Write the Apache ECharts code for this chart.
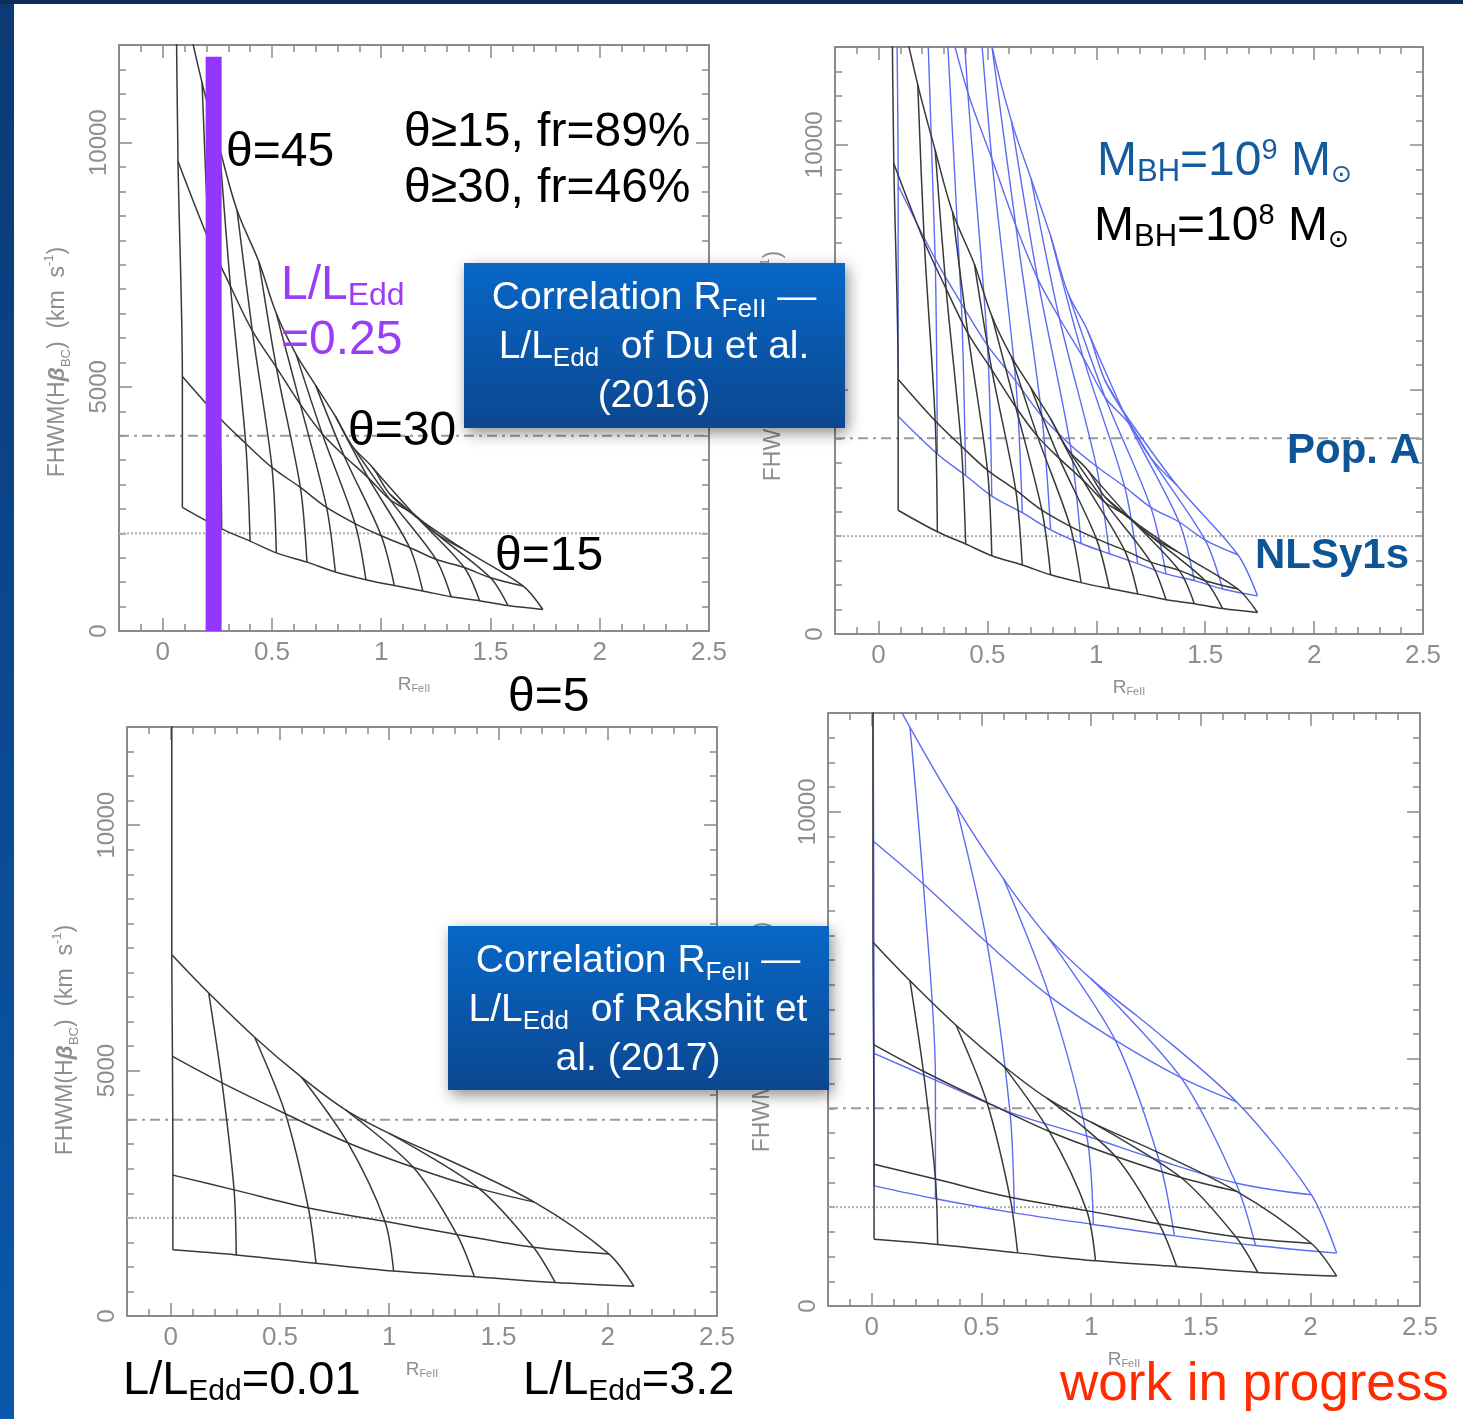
<!DOCTYPE html>
<html><head><meta charset="utf-8">
<script src="https://cdn.jsdelivr.net/npm/echarts@6/dist/echarts.min.js"></script>
<style>html,body{margin:0;padding:0;background:#fff}#c{width:1463px;height:1419px}</style>
</head><body><div id="c"></div>
<script>
// ---------------- DATA ----------------
// x = R_FeII, y = FHWM(Hbeta_BC) km/s ; each row = one viewing angle theta, one node per L/LEdd value
// Du et al. (2016) correlation, MBH = 1e8 (black)
const du8_t05 = [[0.09,2530],[0.27,2090],[0.40,1840],[0.52,1600],[0.66,1410],[0.79,1210],[0.93,1050],[1.06,930],[1.19,820],[1.32,700],[1.45,620],[1.58,520],[1.74,440]];
const du8_t15 = [[0.09,5210],[0.26,4360],[0.38,3840],[0.50,3350],[0.63,2940],[0.75,2530],[0.88,2200],[1.00,1950],[1.13,1710],[1.25,1470],[1.38,1300],[1.50,1090],[1.65,920]];
const du8_t30 = [[0.07,9620],[0.21,8020],[0.31,7060],[0.41,6150],[0.52,5400],[0.63,4640],[0.73,4040],[0.83,3590],[0.94,3140],[1.04,2690],[1.15,2390],[1.25,2000],[1.37,1690]];
const du8_t45 = [[0.06,13600],[0.18,11230],[0.26,9890],[0.34,8620],[0.44,7560],[0.52,6500],[0.61,5670],[0.70,5030],[0.79,4400],[0.87,3770],[0.96,3350],[1.04,2800],[1.15,2370]];
// Du et al. (2016) correlation, MBH = 1e9 (blue)
const du9_t05 = [[0.09,4450],[0.27,3680],[0.40,3240],[0.52,2820],[0.66,2480],[0.79,2130],[0.93,1850],[1.06,1640],[1.19,1440],[1.32,1230],[1.45,1090],[1.58,920],[1.74,780]];
const du9_t15 = [[0.09,9170],[0.26,7670],[0.38,6760],[0.50,5900],[0.63,5170],[0.75,4450],[0.88,3870],[1.00,3430],[1.13,3010],[1.25,2590],[1.38,2290],[1.50,1920],[1.65,1620]];
const du9_t30 = [[0.07,17320],[0.21,14440],[0.31,12710],[0.41,11070],[0.52,9720],[0.63,8350],[0.73,7270],[0.83,6460],[0.94,5650],[1.04,4840],[1.15,4300],[1.25,3600],[1.37,3040]];
const du9_t45 = [[0.06,25160],[0.18,20780],[0.26,18300],[0.34,15950],[0.44,13990],[0.52,12030],[0.61,10490],[0.70,9310],[0.79,8140],[0.87,6970],[0.96,6200],[1.04,5180],[1.15,4380]];
// Rakshit et al. (2017) correlation, MBH = 1e8 (black)
const rak8_t05 = [[0.01,1350],[0.30,1245],[0.665,1075],[1.02,915],[1.39,800],[1.76,680],[2.12,605]];
const rak8_t15 = [[0.01,2870],[0.29,2570],[0.63,2200],[0.98,1930],[1.31,1660],[1.66,1400],[2.005,1265]];
const rak8_t30 = [[0.008,5290],[0.235,4750],[0.525,4120],[0.81,3530],[1.11,3030],[1.41,2600],[1.664,2320]];
const rak8_t45 = [[0.005,7360],[0.174,6580],[0.384,5680],[0.60,4860],[0.80,4200],[1.00,3720],[1.21,3300]];
const rak8_edgeTop = [0.005,12600];
// Rakshit et al. (2017) correlation, MBH = 1e9 (blue)
const rak9_t05 = [[0.01,2430],[0.29,2170],[0.65,1885],[1.01,1650],[1.38,1420],[1.75,1225],[2.12,1070]];
const rak9_t15 = [[0.01,5110],[0.29,4570],[0.63,3920],[0.98,3440],[1.31,2950],[1.66,2490],[2.005,2250]];
const rak9_t30 = [[0.008,9400],[0.235,8540],[0.525,7350],[0.81,6270],[1.11,5380],[1.41,4620],[1.664,4130]];
const rak9_t45 = [[0.005,13100],[0.174,11710],[0.384,10110],[0.60,8650],[0.80,7480],[1.00,6620],[1.21,5870]];
// reference lines (Pop. A limit, NLSy1 limit) and the marked L/LEdd = 0.25 strip
const popA_fwhm = 4000;
const nlsy1_fwhm = 2000;
const xRange = [-0.2, 2.5];
const yRange = [0, 12000];
const lEdd025_rfe = 0.233;
const lEdd025_top = 11760;

// ---------------- LAYOUT ----------------
const SANS = "'Liberation Sans', Arial, Helvetica, sans-serif";
const AX = '#8a8a8a';
const LBL = '#8e8e8e';
const BLACK = '#383838';
const BLUE = '#5b6cf3';
const grids = [
  {left:119, top:45, width:590, height:586},
  {left:835, top:47, width:588, height:587},
  {left:127, top:727, width:590, height:589},
  {left:828, top:713, width:592, height:593}
];

const xAxes = [], yAxes = [];
grids.forEach((g, i) => {
  const tick = {show:true, inside:true, length:13, lineStyle:{color:AX, width:1.5}};
  const line = {show:true, onZero:false, lineStyle:{color:AX, width:2}};
  xAxes.push({gridIndex:i, type:'value', min:xRange[0], max:xRange[1], splitNumber:5, position:'bottom',
    axisLine:line, axisTick:tick, minorTick:{show:true, splitNumber:5, length:7, lineStyle:{color:AX, width:1.5}},
    splitLine:{show:false}, minorSplitLine:{show:false},
    axisLabel:{show:true, color:LBL, fontSize:26, fontFamily:SANS, margin:9, showMinLabel:false, formatter:v=>String(v)},
    name:'{a|R}{b|FeII}', nameLocation:'middle', nameGap:44,
    nameTextStyle:{color:LBL, rich:{a:{fontSize:19, fontFamily:SANS, color:LBL}, b:{fontSize:11, fontFamily:SANS, color:LBL, verticalAlign:'bottom'}}}});
  xAxes.push({gridIndex:i, type:'value', min:xRange[0], max:xRange[1], splitNumber:5, position:'top',
    axisLine:line, axisTick:tick, minorTick:{show:true, splitNumber:5, length:7, lineStyle:{color:AX, width:1.5}},
    splitLine:{show:false}, axisLabel:{show:false}});
  yAxes.push({gridIndex:i, type:'value', min:yRange[0], max:yRange[1], interval:5000, position:'left',
    axisLine:line, axisTick:tick, minorTick:{show:true, splitNumber:10, length:7, lineStyle:{color:AX, width:1.5}},
    splitLine:{show:false}, minorSplitLine:{show:false},
    axisLabel:{show:true, rotate:90, color:LBL, fontSize:24, fontFamily:SANS, margin:8, showMaxLabel:false, formatter:v=>String(v)}});
  yAxes.push({gridIndex:i, type:'value', min:yRange[0], max:yRange[1], interval:5000, position:'right',
    axisLine:line, axisTick:tick, minorTick:{show:true, splitNumber:10, length:7, lineStyle:{color:AX, width:1.5}},
    splitLine:{show:false}, axisLabel:{show:false}});
});

function lineSeries(data, g, color, width, smooth, extra) {
  return Object.assign({type:'line', xAxisIndex:2*g, yAxisIndex:2*g, data, showSymbol:false, symbol:'none',
    smooth, silent:true, clip:true, animation:false, lineStyle:{color, width}, z:3}, extra || {});
}
function mesh(rows, g, color, width, topExt) {
  const out = [];
  rows.forEach(r => out.push(lineSeries(r, g, color, width, 0.35)));
  for (let j = 0; j < rows[0].length; j++) {
    const pts = rows.map(r => r[j]);
    if (j === 0 && topExt) pts.push(topExt);
    out.push(lineSeries(pts, g, color, width, 0.3));
  }
  return out;
}
function refLines(g) {
  return [
    lineSeries([[xRange[0], popA_fwhm],[xRange[1], popA_fwhm]], g, '#9a9a9a', 2, false, {lineStyle:{color:'#9a9a9a', width:2, type:[10,5,3,5]}, z:2}),
    lineSeries([[xRange[0], nlsy1_fwhm],[xRange[1], nlsy1_fwhm]], g, '#b0b0b0', 2, false, {lineStyle:{color:'#b0b0b0', width:2, type:[2,2]}, z:2})
  ];
}

const series = [].concat(
  refLines(0), refLines(1), refLines(2), refLines(3),
  mesh([du8_t05, du8_t15, du8_t30, du8_t45], 0, BLACK, 1.5),
  mesh([du9_t05, du9_t15, du9_t30, du9_t45], 1, BLUE, 1.4),
  mesh([du8_t05, du8_t15, du8_t30, du8_t45], 1, BLACK, 1.5),
  mesh([rak8_t05, rak8_t15, rak8_t30, rak8_t45], 2, BLACK, 1.5, rak8_edgeTop),
  mesh([rak9_t05, rak9_t15, rak9_t30, rak9_t45], 3, BLUE, 1.4),
  mesh([rak8_t05, rak8_t15, rak8_t30, rak8_t45], 3, BLACK, 1.5, rak8_edgeTop),
  [lineSeries([[lEdd025_rfe, yRange[0]],[lEdd025_rfe, lEdd025_top]], 0, '#9436ff', 16, false, {z:6})]
);

// ---------------- ANNOTATIONS ----------------
const T = (x, y, text, opt) => ({type:'text', x, y, z:300, silent:true,
  style:Object.assign({text, fill:'#000', fontSize:48, fontFamily:SANS, align:'left', verticalAlign:'middle', lineHeight:52}, opt || {})});
const subRich = (fill, fs) => ({s:{fontSize:fs, fontFamily:SANS, fill, verticalAlign:'bottom', lineHeight:44}, p:{fontSize:fs-2, fontFamily:SANS, fill, verticalAlign:'top', lineHeight:40}, o:{fontSize:fs-6, fontFamily:'DejaVu Sans', fill, verticalAlign:'bottom', lineHeight:40}});
const box = (x, y, w, h) => ({type:'rect', z:250, silent:true, shape:{x, y, width:w, height:h},
  style:{fill:new echarts.graphic.LinearGradient(0,0,0,1,[{offset:0,color:'#0767c7'},{offset:1,color:'#0c4790'}]),
  shadowBlur:14, shadowColor:'rgba(0,0,0,0.45)', shadowOffsetX:3, shadowOffsetY:5}});
const boxText = (x, y, text) => ({type:'text', x, y, z:260, silent:true,
  style:{text, fill:'#fff', fontSize:39, fontFamily:SANS, align:'center', verticalAlign:'middle', lineHeight:49,
  rich:{s:{fontSize:26, fontFamily:SANS, fill:'#fff', verticalAlign:'bottom', lineHeight:40}}}});
const yTitle = (x, y) => ({type:'text', x, y, rotation:Math.PI/2, z:240, silent:true,
  style:{text:'{a|FHWM(H}{c|β}{b|BC}{a|)  (km  s}{d|-1}{a|)}', fill:LBL, align:'center', verticalAlign:'middle',
  rich:{a:{fontSize:23, fontFamily:SANS, fill:LBL, lineHeight:30}, c:{fontSize:23, fontFamily:SANS, fill:LBL, fontWeight:'bold', fontStyle:'italic', lineHeight:30},
        b:{fontSize:13, fontFamily:SANS, fill:LBL, verticalAlign:'bottom', lineHeight:24}, d:{fontSize:13, fontFamily:SANS, fill:LBL, verticalAlign:'top', lineHeight:24}}}});

const graphic = [
  {type:'rect', z:400, silent:true, shape:{x:0, y:0, width:14, height:1419},
    style:{fill:new echarts.graphic.LinearGradient(0,0,0,1,[{offset:0,color:'#0b3a74'},{offset:1,color:'#0a58ad'}])}},
  {type:'rect', z:400, silent:true, shape:{x:0, y:0, width:1463, height:4}, style:{fill:'#0c2e58'}},
  yTitle(58, 362), yTitle(774, 366), yTitle(66, 1040), yTitle(763, 1037),
  T(226, 153, 'θ=45'),
  T(404, 133, 'θ≥15, fr=89%'),
  T(404, 189, 'θ≥30, fr=46%'),
  T(281, 286, 'L/L{s|Edd}', {fill:'#9a3ef6', rich:subRich('#9a3ef6', 32)}),
  T(281, 341, '=0.25', {fill:'#9a3ef6'}),
  T(348, 432, 'θ=30'),
  T(495, 557, 'θ=15'),
  T(508, 698, 'θ=5'),
  T(1097, 162, 'M{s|BH}=10{p|9} M{o|⊙}', {fill:'#145a9e', rich:subRich('#145a9e', 31)}),
  T(1094, 227, 'M{s|BH}=10{p|8} M{o|⊙}', {fill:'#000', rich:subRich('#000', 31)}),
  T(1287, 451, 'Pop. A', {fill:'#0e5596', fontWeight:'bold', fontSize:42}),
  T(1255, 556, 'NLSy1s', {fill:'#0e5596', fontWeight:'bold', fontSize:42}),
  T(123, 1381, 'L/L{s|Edd}=0.01', {fontSize:47, rich:subRich('#000', 30)}),
  T(523, 1381, 'L/L{s|Edd}=3.2', {fontSize:47, rich:subRich('#000', 30)}),
  T(1060, 1385, 'work in progress', {fill:'#ff2a00', fontSize:53}),
  box(464, 263, 381, 165),
  boxText(654, 347, 'Correlation R{s|FeII} —\nL/L{s|Edd}  of Du et al.\n(2016)'),
  box(448, 926, 381, 164),
  boxText(638, 1010, 'Correlation R{s|FeII} —\nL/L{s|Edd}  of Rakshit et\nal. (2017)')
];

const chart = echarts.init(document.getElementById('c'), null, {renderer:'canvas'});
chart.setOption({
  animation:false,
  backgroundColor:'#ffffff',
  grid: grids.map(g => Object.assign({containLabel:false, outerBoundsMode:'none'}, g)),
  xAxis: xAxes,
  yAxis: yAxes,
  series,
  graphic
});
</script></body></html>
